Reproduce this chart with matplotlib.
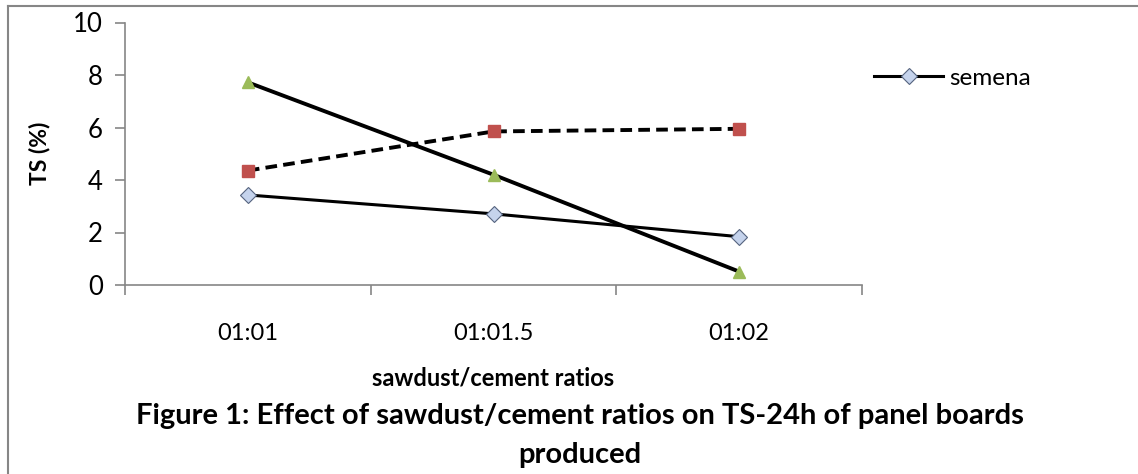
import matplotlib
matplotlib.use("Agg")
import matplotlib.pyplot as plt
from matplotlib.lines import Line2D

categories = ["01:01", "01:01.5", "01:02"]
semena = [3.43, 2.71, 1.84]
series_square = [4.36, 5.85, 5.95]
series_triangle = [7.72, 4.20, 0.51]
yticks = [0, 2, 4, 6, 8, 10]

plt.rcParams['font.family'] = ['Lato', 'DejaVu Sans']

W, H = 1138, 474
fig = plt.figure(figsize=(W / 100, H / 100), dpi=100)
ax = fig.add_axes([125 / W, 1 - 285 / H, (862 - 125) / W, (285 - 22.5) / H])

x = list(range(len(categories)))
ax.plot(x, semena, color="black", lw=2.2, marker="D", ms=8.5,
        markerfacecolor="#c5d3ec", markeredgecolor="#56647f", markeredgewidth=0.8,
        zorder=3, label="semena")
ax.plot(x, series_square, color="black", lw=2.8, ls=(0, (3, 1.6)), marker="s", ms=8,
        markerfacecolor="#c0504d", markeredgecolor="#c0504d", zorder=3)
ax.plot(x, series_triangle, color="black", lw=2.8, marker="^", ms=9,
        markerfacecolor="#9bbb59", markeredgecolor="#9bbb59", zorder=3)

ax.set_xlim(-0.5, 2.5)
ax.set_ylim(0, 10)
ax.set_yticks(yticks)
ax.set_yticklabels([str(v) for v in yticks], fontsize=18.5)
ax.set_xticks([-0.5, 0.5, 1.5, 2.5])
ax.set_xticklabels([])
ax.set_xticks(x, minor=True)
ax.set_xticklabels(categories, minor=True, fontsize=17)
ax.tick_params(axis="x", which="minor", length=0, pad=27)
ax.tick_params(axis="x", which="major", direction="out", length=7, color="#868686", width=1.2)
ax.tick_params(axis="y", direction="out", length=7, color="#868686", width=1.2, pad=9)
for s in ["top", "right"]:
    ax.spines[s].set_visible(False)
for s in ["left", "bottom"]:
    ax.spines[s].set_color("#868686")
    ax.spines[s].set_linewidth(1.2)

ax.set_ylabel("TS (%)", fontsize=16.5, fontweight="bold", labelpad=16)

handle = Line2D([0], [0], color="black", lw=2.2, marker="D", ms=8.5,
                markerfacecolor="#c5d3ec", markeredgecolor="#56647f", markeredgewidth=0.8)
fig.legend([handle], ["semena"], loc="center left", bbox_to_anchor=(862 / W, 1 - 78 / H),
           frameon=False, fontsize=17.5, handlelength=2.85, handletextpad=0.25,
           borderaxespad=0, borderpad=0.5)

fig.text(493 / W, 1 - 378 / H, "sawdust/cement ratios", fontsize=17, fontweight="bold",
         ha="center", va="center")
fig.text(580 / W, 1 - 416 / H, "Figure 1: Effect of sawdust/cement ratios on TS-24h of panel boards",
         fontsize=21, fontweight="bold", ha="center", va="center")
fig.text(580 / W, 1 - 455 / H, "produced", fontsize=21, fontweight="bold", ha="center", va="center")

# outer frame (top and left lines)
fig.add_artist(Line2D([8 / W, 8 / W], [0, 1 - 6 / H], transform=fig.transFigure,
                      color="#868686", lw=1.5))
fig.add_artist(Line2D([8 / W, 1], [1 - 6 / H, 1 - 6 / H], transform=fig.transFigure,
                      color="#868686", lw=1.5))

fig.savefig("out.png", dpi=100)
